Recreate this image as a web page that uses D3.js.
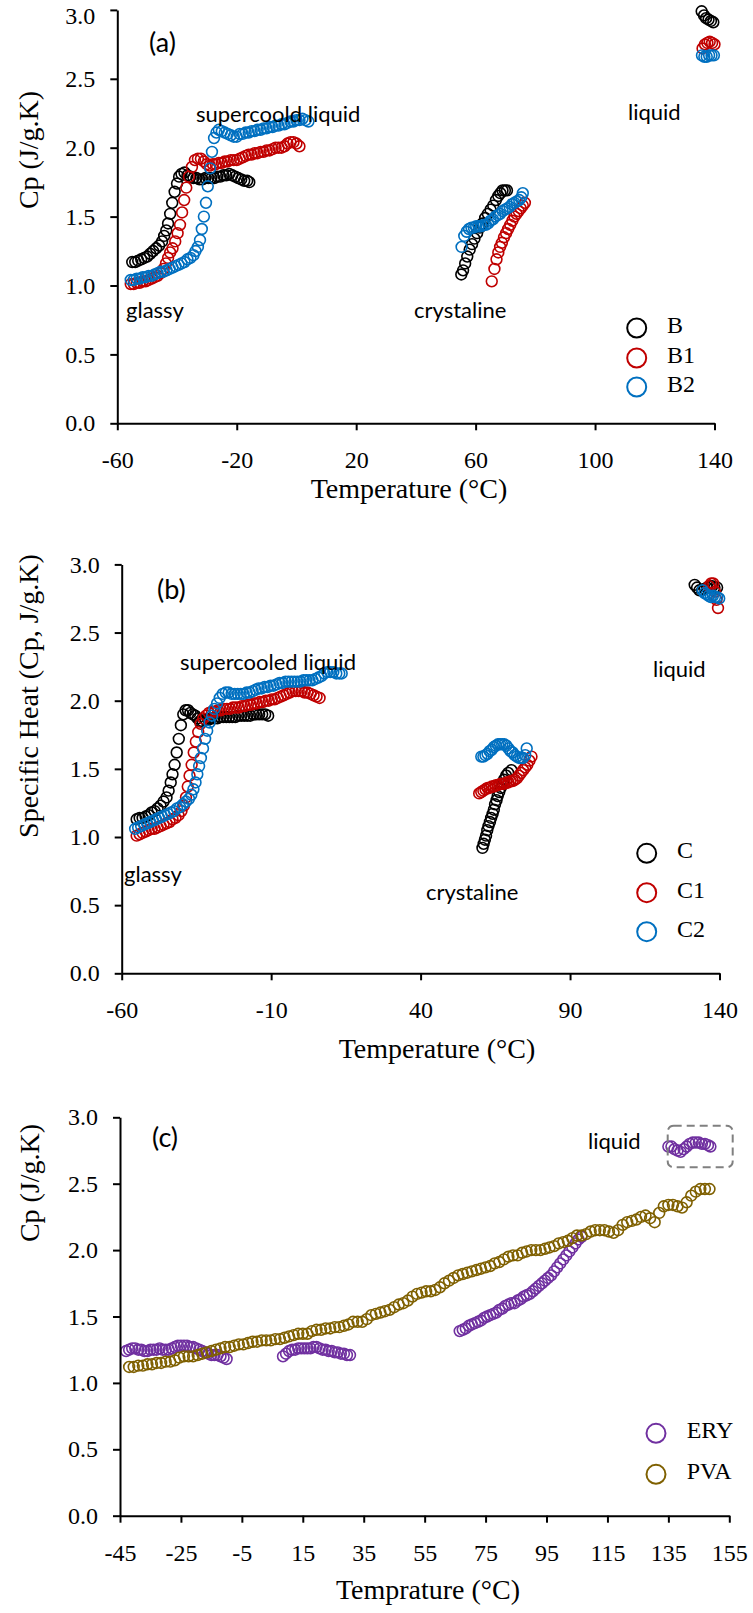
<!DOCTYPE html>
<html>
<head>
<meta charset="utf-8">
<script src="https://cdn.jsdelivr.net/npm/d3@7"></script>
<style>
  html, body { margin: 0; padding: 0; background: #fff; }
  svg { display: block; }
  .note { font-family: Lato, "Open Sans", sans-serif; font-size: 22px; fill: #000; }
  .tag { font-family: Lato, "Open Sans", sans-serif; font-size: 27px; fill: #000; }
  .serif { font-family: "Liberation Serif", "Times New Roman", serif; fill: #000; }
</style>
</head>
<body>
<svg id="chart" width="753" height="1613"></svg>
<script>
// ---- panel (a) ----
var aTicksX = [-60, -20, 20, 60, 100, 140];
var aB = [[-55,1.17],[-54,1.17],[-53,1.18],[-52,1.19],[-51,1.20],[-50,1.21],[-49,1.23],[-48,1.25],[-47,1.27],[-46,1.29],[-45,1.32],
  [-44.3,1.36],[-43.6,1.40],[-43,1.45],[-42.3,1.52],[-41.6,1.60],[-40.8,1.68],[-40,1.74],[-39.3,1.79],[-38.5,1.81],[-37.5,1.82],
  [-36.5,1.80],[-35.5,1.79],[-34.5,1.78],[-33.5,1.78],[-32.5,1.77],[-31.5,1.77],[-30.5,1.78],[-29.5,1.78],[-28.5,1.78],[-27.5,1.78],
  [-26.5,1.79],[-25.5,1.79],[-24.5,1.80],[-23.5,1.80],[-22.5,1.81],[-21.5,1.80],[-20.5,1.79],[-19.5,1.78],[-18.5,1.77],[-17.5,1.76],
  [-16.5,1.76],[-15.8,1.75],
  [55.2,1.08],[55.8,1.11],[56.5,1.16],[57.2,1.21],[58,1.26],[58.8,1.30],[59.6,1.34],[60.5,1.38],[61.4,1.42],[62.3,1.45],[63.2,1.49],
  [64.1,1.52],[65,1.55],[65.9,1.58],[66.8,1.62],[67.6,1.65],[68.3,1.67],[69,1.69],[69.8,1.69],[70.5,1.69],
  [135.7,2.99],[136.5,2.96],[137.2,2.94],[138,2.93],[138.8,2.92],[139.6,2.91]];
var aB1 = [[-55.5,1.01],[-54.5,1.01],[-53.5,1.02],[-52.5,1.02],[-51.5,1.03],[-50.5,1.03],[-49.5,1.04],[-48.5,1.05],[-47.5,1.06],
  [-46.5,1.07],[-45.5,1.09],[-44.5,1.12],[-43.7,1.16],[-43,1.20],[-42.3,1.24],[-41.5,1.27],[-40.6,1.32],[-39.8,1.38],[-39,1.44],
  [-38.3,1.53],[-37.6,1.62],[-36.9,1.71],[-36,1.79],[-35,1.86],[-34,1.91],[-33,1.92],[-32,1.92],[-31,1.90],[-30,1.88],[-29,1.87],
  [-28,1.88],[-27,1.88],[-26,1.89],[-25,1.89],[-24,1.90],[-23,1.90],[-22,1.91],[-21,1.91],[-20,1.91],[-19,1.92],[-18,1.93],
  [-17,1.94],[-16,1.95],[-15,1.95],[-14,1.96],[-13,1.96],[-12,1.97],[-11,1.97],[-10,1.98],[-9,1.98],[-8,1.99],[-7,2.00],[-6,2.00],
  [-5,2.00],[-4,2.01],[-3,2.03],[-2,2.04],[-1,2.04],[0,2.03],[1,2.01],
  [65.4,1.03],[66.3,1.12],[67,1.19],[67.6,1.24],[68.2,1.28],[68.8,1.31],[69.5,1.35],[70.2,1.38],[70.9,1.41],[71.6,1.44],[72.3,1.47],
  [73,1.50],[73.7,1.52],[74.4,1.54],[75.1,1.56],[75.8,1.58],[76.5,1.60],
  [136,2.72],[136.8,2.75],[137.6,2.76],[138.4,2.77],[139.2,2.76],[140,2.75]];
var aB2 = [[-55.5,1.04],[-54.5,1.04],[-53.5,1.05],[-52.5,1.05],[-51.5,1.06],[-50.5,1.06],[-49.5,1.07],[-48.5,1.07],[-47.5,1.08],
  [-46.5,1.09],[-45.5,1.10],[-44.5,1.10],[-43.5,1.11],[-42.5,1.12],[-41.5,1.13],[-40.5,1.14],[-39.5,1.15],[-38.5,1.16],[-37.5,1.17],
  [-36.5,1.19],[-35.5,1.20],[-34.5,1.22],[-33.8,1.25],[-33,1.28],[-32.3,1.33],[-31.7,1.41],[-31,1.50],[-30.3,1.60],[-29.7,1.72],
  [-28.9,1.85],[-28.3,1.97],[-27.6,2.07],[-26.8,2.11],[-26,2.13],[-25,2.12],[-24,2.11],[-23,2.10],[-22,2.09],[-21,2.08],[-20,2.08],
  [-19,2.10],[-18,2.10],[-17,2.11],[-16,2.11],[-15,2.12],[-14,2.12],[-13,2.13],[-12,2.13],[-11,2.14],[-10,2.14],[-9,2.15],[-8,2.15],
  [-7,2.16],[-6,2.16],[-5,2.17],[-4,2.17],[-3,2.18],[-2,2.19],[-1,2.19],[0,2.20],[1,2.20],[2,2.21],[3,2.20],[4,2.19],
  [55.3,1.28],[56.2,1.36],[57,1.39],[57.8,1.41],[58.6,1.42],[59.4,1.42],[60.2,1.43],[61,1.43],[61.8,1.43],[62.6,1.44],[63.4,1.44],
  [64.2,1.45],[65,1.47],[65.8,1.48],[66.6,1.50],[67.4,1.51],[68.2,1.52],[69,1.54],[69.8,1.55],[70.6,1.56],[71.4,1.57],[72.2,1.59],
  [73,1.60],[73.8,1.61],[74.6,1.62],[75.3,1.64],[75.8,1.67],
  [135.8,2.67],[136.6,2.66],[137.4,2.66],[138.2,2.67],[139,2.67],[139.8,2.67]];

// ---- panel (b) ----
var bTicksX = [-60, -10, 40, 90, 140];
var bC = [[-55,1.13],[-54,1.14],[-53,1.14],[-52,1.15],[-51,1.16],[-50,1.18],[-49,1.19],[-48,1.21],[-47,1.23],[-46,1.26],[-45,1.29],
  [-44.3,1.34],[-43.6,1.40],[-43,1.46],[-42.3,1.53],[-41.6,1.62],[-40.9,1.72],[-40.2,1.82],[-39.4,1.90],[-38.6,1.93],[-37.8,1.93],
  [-37,1.91],[-36.2,1.90],[-35.4,1.89],[-34.6,1.87],[-33.8,1.85],[-33,1.85],[-32,1.86],[-31,1.86],[-30,1.87],[-29,1.87],[-28,1.87],
  [-27,1.88],[-26,1.88],[-25,1.88],[-24,1.88],[-23,1.88],[-22,1.88],[-21,1.89],[-20,1.89],[-19,1.89],[-18,1.89],[-17,1.89],
  [-16,1.90],[-15,1.90],[-14,1.90],[-13,1.90],[-12,1.90],[-11,1.89],
  [60.7,0.92],[61.1,0.95],[61.5,0.98],[61.9,1.01],[62.3,1.05],[62.7,1.08],[63.2,1.11],[63.6,1.14],[64.1,1.17],[64.5,1.20],
  [64.9,1.24],[65.4,1.27],[65.8,1.30],[66.3,1.33],[66.8,1.36],[67.3,1.39],[67.9,1.42],[68.6,1.45],[69.3,1.47],[70.4,1.49],
  [131.7,2.85],[132.5,2.83],[133.3,2.81],[134.2,2.81],[135,2.82],[135.8,2.83],[136.7,2.84],[137.5,2.84],[138.3,2.83],[139.2,2.83]];
var bC1 = [[-55,1.01],[-54,1.02],[-53,1.03],[-52,1.04],[-51,1.05],[-50,1.06],[-49,1.06],[-48,1.07],[-47,1.08],[-46,1.09],[-45,1.10],
  [-44,1.11],[-43,1.13],[-42,1.14],[-41,1.16],[-40,1.19],[-39.2,1.23],[-38.5,1.29],[-37.9,1.37],[-37.3,1.45],[-36.6,1.53],
  [-35.9,1.62],[-35.2,1.70],[-34.4,1.77],[-33.6,1.83],[-32.7,1.87],[-31.8,1.89],[-30.8,1.91],[-29.8,1.92],[-28.8,1.92],[-27.8,1.93],
  [-26.8,1.93],[-25.8,1.94],[-24.8,1.94],[-23.8,1.94],[-22.8,1.95],[-21.8,1.95],[-20.8,1.95],[-19.8,1.96],[-18.8,1.96],[-17.8,1.97],
  [-16.8,1.97],[-15.8,1.98],[-14.8,1.98],[-13.8,1.99],[-12.8,1.99],[-11.8,2.00],[-10.8,2.00],[-9.8,2.01],[-8.8,2.01],[-7.8,2.02],
  [-6.8,2.03],[-5.8,2.04],[-4.8,2.05],[-3.8,2.06],[-2.8,2.07],[-1.8,2.07],[-0.8,2.07],[0.2,2.07],[1.2,2.06],[2.2,2.06],[3.2,2.05],
  [4.2,2.04],[5.2,2.03],[6.2,2.02],
  [59.6,1.32],[60.3,1.33],[61,1.34],[61.7,1.35],[62.4,1.36],[63.1,1.36],[63.8,1.37],[64.5,1.37],[65.2,1.38],[65.9,1.38],[66.6,1.39],
  [67.3,1.39],[68,1.39],[68.7,1.40],[69.4,1.40],[70.1,1.41],[70.8,1.41],[71.5,1.42],[72.2,1.43],[72.9,1.45],[73.6,1.47],[74.3,1.49],
  [75,1.51],[75.7,1.53],[76.4,1.56],[77.1,1.59],
  [136.5,2.84],[137.2,2.86],[137.9,2.86],[138.5,2.80],[139,2.74],[139.5,2.68]];
var bC2 = [[-55.5,1.06],[-54.5,1.07],[-53.5,1.08],[-52.5,1.09],[-51.5,1.10],[-50.5,1.11],[-49.5,1.12],[-48.5,1.13],[-47.5,1.14],
  [-46.5,1.15],[-45.5,1.16],[-44.5,1.17],[-43.5,1.18],[-42.5,1.19],[-41.5,1.21],[-40.5,1.22],[-39.5,1.24],[-38.5,1.26],[-37.5,1.28],
  [-36.7,1.31],[-36,1.35],[-35.3,1.40],[-34.7,1.46],[-34.1,1.52],[-33.5,1.58],[-32.8,1.65],[-32.1,1.72],[-31.4,1.78],[-30.6,1.84],
  [-29.8,1.89],[-29,1.94],[-28.1,1.98],[-27.2,2.02],[-26.2,2.05],[-25.2,2.06],[-24.2,2.06],[-23.2,2.05],[-22.2,2.05],[-21.2,2.05],
  [-20.2,2.05],[-19.2,2.05],[-18.2,2.06],[-17.2,2.06],[-16.2,2.07],[-15.2,2.08],[-14.2,2.09],[-13.2,2.09],[-12.2,2.10],[-11.2,2.10],
  [-10.2,2.11],[-9.2,2.11],[-8.2,2.12],[-7.2,2.13],[-6.2,2.13],[-5.2,2.14],[-4.2,2.14],[-3.2,2.14],[-2.2,2.14],[-1.2,2.14],
  [-0.2,2.14],[0.8,2.15],[1.8,2.15],[2.8,2.15],[3.8,2.15],[4.8,2.16],[5.8,2.17],[6.8,2.18],[7.8,2.20],[8.8,2.21],[9.8,2.21],
  [10.8,2.21],[11.8,2.20],[12.8,2.20],[13.6,2.20],
  [60.3,1.59],[61,1.59],[61.7,1.60],[62.4,1.61],[63.1,1.63],[63.8,1.64],[64.5,1.66],[65.2,1.67],[65.9,1.68],[66.6,1.68],[67.3,1.68],
  [68,1.68],[68.7,1.67],[69.4,1.65],[70.1,1.63],[70.8,1.62],[71.5,1.60],[72.2,1.59],[72.9,1.58],[73.6,1.58],[74.3,1.58],[75,1.60],
  [75.5,1.65],
  [134.3,2.81],[135,2.79],[135.7,2.78],[136.4,2.77],[137.1,2.76],[137.8,2.77],[138.5,2.76],[139.2,2.76],[139.9,2.75]];

// ---- panel (c) ----
var cTicksX = [-45, -25, -5, 15, 35, 55, 75, 95, 115, 135, 155];
var cERY = [[-43,1.24],[-42,1.25],[-41,1.26],[-40,1.26],[-39,1.25],[-38,1.25],[-37,1.24],[-36,1.24],[-35,1.25],[-34,1.25],[-33,1.25],
  [-32,1.26],[-31,1.25],[-30,1.25],[-29,1.25],[-28,1.26],[-27,1.27],[-26,1.28],[-25,1.28],[-24,1.28],[-23,1.28],[-22,1.27],
  [-21,1.27],[-20,1.26],[-19,1.25],[-18,1.24],[-17,1.23],[-16,1.22],[-15,1.21],[-14,1.21],[-13,1.21],[-12,1.20],[-11,1.19],[-10,1.18],
  [8.5,1.20],[9.5,1.22],[10.5,1.24],[11.5,1.25],[12.5,1.25],[13.5,1.26],[14.5,1.26],[15.5,1.26],[16.5,1.26],[17.5,1.26],[18.5,1.27],
  [19.5,1.27],[20.5,1.26],[21.5,1.25],[22.5,1.25],[23.5,1.24],[24.5,1.24],[25.5,1.23],[26.5,1.23],[27.5,1.22],[28.5,1.22],
  [29.5,1.21],[30.5,1.21],
  [66.5,1.39],[67.5,1.40],[68.5,1.41],[69.5,1.43],[70.5,1.44],[71.5,1.45],[72.5,1.46],[73.5,1.47],[74.5,1.49],[75.5,1.50],
  [76.5,1.51],[77.5,1.52],[78.5,1.53],[79.5,1.55],[80.5,1.56],[81.5,1.58],[82.5,1.59],[83.5,1.60],[84.5,1.60],[85.5,1.62],
  [86.5,1.63],[87.5,1.65],[88.5,1.66],[89.5,1.67],[90.5,1.69],[91.5,1.71],[92.5,1.73],[93.5,1.75],[94.5,1.77],[95.5,1.79],
  [96.5,1.81],[97.5,1.84],[98.5,1.87],[99.5,1.90],[100.5,1.93],[101.5,1.96],[102.5,1.99],[103.5,2.02],[104.5,2.05],[105.5,2.08],
  [106.5,2.10],
  [135,2.78],[136,2.78],[137,2.76],[138,2.75],[139,2.74],[140,2.76],[141,2.78],[142,2.80],[143,2.81],[144,2.81],[145,2.81],
  [146,2.80],[147,2.80],[148,2.79],[148.8,2.78]];
var cPVA = [[-42,1.12],[-40.5,1.12],[-39,1.13],[-37.5,1.13],[-36,1.14],[-34.5,1.14],[-33,1.15],[-31.5,1.15],[-30,1.16],[-28.5,1.16],
  [-27,1.17],[-25.5,1.19],[-24,1.20],[-22.5,1.20],[-21,1.20],[-19.5,1.21],[-18,1.22],[-16.5,1.23],[-15,1.24],[-13.5,1.25],
  [-12,1.26],[-10.5,1.27],[-9,1.27],[-7.5,1.28],[-6,1.29],[-4.5,1.29],[-3,1.30],[-1.5,1.31],[0,1.31],[1.5,1.32],[3,1.32],[4.5,1.32],
  [6,1.33],[7.5,1.33],[9,1.34],[10.5,1.35],[12,1.36],[13.5,1.37],[15,1.37],[16.5,1.37],[18,1.39],[19.5,1.40],[21,1.40],[22.5,1.41],
  [24,1.41],[25.5,1.42],[27,1.42],[28.5,1.43],[30,1.44],[31.5,1.46],[33,1.46],[34.5,1.46],[36,1.48],[37.5,1.51],[39,1.52],[40.5,1.53],
  [42,1.54],[43.5,1.55],[45,1.57],[46.5,1.59],[48,1.60],[49.5,1.62],[51,1.65],[52.5,1.67],[54,1.68],[55.5,1.69],[57,1.69],[58.5,1.70],
  [60,1.72],[61.5,1.75],[63,1.77],[64.5,1.79],[66,1.81],[67.5,1.82],[69,1.83],[70.5,1.84],[72,1.85],[73.5,1.86],[75,1.87],[76.5,1.88],
  [78,1.90],[79.5,1.91],[81,1.93],[82.5,1.95],[84,1.96],[85.5,1.96],[87,1.98],[88.5,1.99],[90,2.00],[91.5,2.00],[93,2.00],[94.5,2.01],
  [96,2.02],[97.5,2.03],[99,2.05],[100.5,2.06],[102,2.07],[103.5,2.09],[105,2.11],[106.5,2.11],[108,2.12],[109.5,2.14],[111,2.15],
  [112.5,2.15],[114,2.15],[115.5,2.14],[117,2.13],[118.5,2.15],[120,2.19],[121.5,2.21],[123,2.22],[124.5,2.23],[126,2.25],[127.5,2.26],
  [129,2.24],[130.5,2.21],[132,2.28],[133.5,2.33],[135,2.34],[136.5,2.34],[138,2.33],[139.5,2.32],[141,2.36],[142.5,2.41],[144,2.44],
  [145.5,2.46],[147,2.46],[148.5,2.46]];

var yTicks = [0, 0.5, 1.0, 1.5, 2.0, 2.5, 3.0];

var svg = d3.select('#chart');

var panels = [
  {
    xDomain: [-60, 140], xRange: [117.3, 714.5], yRange: [423.3, 9.9], ticksX: aTicksX, topLabelShift: 6,
    series: [{name: 'B', data: aB, color: '#000000'}, {name: 'B1', data: aB1, color: '#C00000'}, {name: 'B2', data: aB2, color: '#0070C0'}],
    yTitle: 'Cp (J/g.K)', yTitlePos: [28, 150],
    xTitle: 'Temperature (°C)', xTitlePos: [409, 498],
    tag: '(a)', tagPos: [149, 52],
    notes: [['supercoold liquid', 196, 122], ['glassy', 126, 318], ['liquid', 628, 120], ['crystaline', 414, 318]],
    legend: {x: 636.7, ys: [328, 358, 387], tx: 667}
  },
  {
    xDomain: [-60, 140], xRange: [121.7, 719.5], yRange: [973.3, 564.4], ticksX: bTicksX, topLabelShift: 0,
    series: [{name: 'C', data: bC, color: '#000000'}, {name: 'C1', data: bC1, color: '#C00000'}, {name: 'C2', data: bC2, color: '#0070C0'}],
    yTitle: 'Specific Heat (Cp, J/g.K)', yTitlePos: [28, 696],
    xTitle: 'Temperature (°C)', xTitlePos: [437, 1058],
    tag: '(b)', tagPos: [157, 599],
    notes: [['supercooled liquid', 180, 670], ['glassy', 124, 882], ['liquid', 653, 677], ['crystaline', 426, 900]],
    legend: {x: 646.7, ys: [853.3, 892.7, 931.7], tx: 677}
  },
  {
    xDomain: [-45, 155], xRange: [120, 729.3], yRange: [1515.7, 1117.3], ticksX: cTicksX, topLabelShift: 0,
    series: [{name: 'ERY', data: cERY, color: '#7030A0'}, {name: 'PVA', data: cPVA, color: '#7F6000'}],
    yTitle: 'Cp (J/g.K)', yTitlePos: [29, 1183],
    xTitle: 'Temprature (°C)', xTitlePos: [428, 1599],
    tag: '(c)', tagPos: [152, 1147],
    notes: [['liquid', 588, 1149]],
    legend: {x: 656, ys: [1433.3, 1474.3], tx: 686.7},
    box: {x0: 667.7, x1: 732.7, y0: 1125.7, y1: 1167.3}
  }
];

panels.forEach(function(p) {
  var x = d3.scaleLinear().domain(p.xDomain).range(p.xRange);
  var y = d3.scaleLinear().domain([0, 3]).range(p.yRange);
  var g = svg.append('g');

  // markers first so the axes sit on top
  p.series.forEach(function(s) {
    g.append('g').selectAll('circle')
      .data(s.data)
      .enter().append('circle')
      .attr('cx', function(d) { return x(d[0]); })
      .attr('cy', function(d) { return y(d[1]); })
      .attr('r', 5.4)
      .attr('fill', 'none')
      .attr('stroke', s.color)
      .attr('stroke-width', 1.6);
  });

  // plain hyphen for negatives, like the original
  var xAxis = g.append('g')
    .attr('transform', 'translate(0,' + p.yRange[0] + ')')
    .call(d3.axisBottom(x).tickValues(p.ticksX).tickSize(7).tickSizeOuter(0).tickPadding(21)
      .tickFormat(function(d) { return String(d); }));
  var yAxis = g.append('g')
    .attr('transform', 'translate(' + p.xRange[0] + ',0)')
    .call(d3.axisLeft(y).tickValues(yTicks).tickSize(7).tickSizeOuter(0).tickPadding(15)
      .tickFormat(function(d) { return d.toFixed(1); }));

  [xAxis, yAxis].forEach(function(ax) {
    ax.selectAll('path.domain').attr('stroke', '#000').attr('stroke-width', 2);
    ax.selectAll('.tick line').attr('stroke', '#000').attr('stroke-width', 2);
    ax.selectAll('.tick text')
      .attr('class', 'serif')
      .style('font-family', '"Liberation Serif", "Times New Roman", serif')
      .style('font-size', '24px')
      .attr('fill', '#000');
  });
  // the top label of panel (a) sits a little lower, inside the picture
  yAxis.selectAll('.tick text')
    .filter(function(d) { return d === 3; })
    .attr('y', p.topLabelShift);

  g.append('text')
    .attr('class', 'serif')
    .attr('x', p.xTitlePos[0]).attr('y', p.xTitlePos[1])
    .attr('text-anchor', 'middle')
    .style('font-size', '28px')
    .text(p.xTitle);

  g.append('text')
    .attr('class', 'serif')
    .attr('transform', 'translate(' + p.yTitlePos[0] + ',' + p.yTitlePos[1] + ') rotate(-90)')
    .attr('text-anchor', 'middle')
    .attr('dy', '0.35em')
    .style('font-size', '28px')
    .text(p.yTitle);

  g.append('text')
    .attr('class', 'tag')
    .attr('x', p.tagPos[0]).attr('y', p.tagPos[1])
    .text(p.tag);

  p.notes.forEach(function(n) {
    g.append('text')
      .attr('class', 'note')
      .attr('x', n[1]).attr('y', n[2])
      .text(n[0]);
  });

  // legend
  p.series.forEach(function(s, i) {
    g.append('circle')
      .attr('cx', p.legend.x).attr('cy', p.legend.ys[i])
      .attr('r', 9.5)
      .attr('fill', 'none')
      .attr('stroke', s.color)
      .attr('stroke-width', 2);
    g.append('text')
      .attr('class', 'serif')
      .attr('x', p.legend.tx).attr('y', p.legend.ys[i] + 5)
      .style('font-size', '24px')
      .text(s.name);
  });

  if (p.box) {
    g.append('rect')
      .attr('x', p.box.x0).attr('y', p.box.y0)
      .attr('width', p.box.x1 - p.box.x0).attr('height', p.box.y1 - p.box.y0)
      .attr('rx', 6).attr('ry', 6)
      .attr('fill', 'none')
      .attr('stroke', '#808080')
      .attr('stroke-width', 2)
      .attr('stroke-dasharray', '8,5');
  }
});
</script>
</body>
</html>
